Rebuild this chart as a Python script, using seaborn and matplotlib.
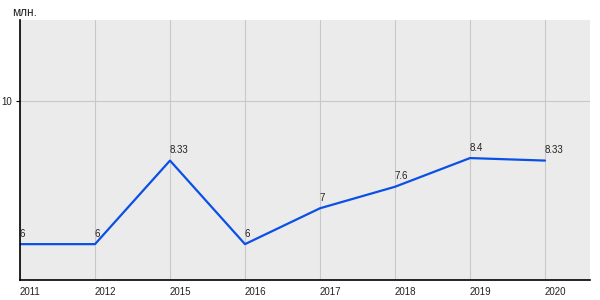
import matplotlib
matplotlib.use("Agg")
import matplotlib.pyplot as plt
import seaborn as sns
import pandas as pd

years = ["2011", "2012", "2015", "2016", "2017", "2018", "2019", "2020"]
values = [6, 6, 8.33, 6, 7, 7.6, 8.4, 8.33]
point_labels = ["6", "6", "8.33", "6", "7", "7.6", "8.4", "8.33"]
y_ticks = [10]
unit_label = "млн."

sns.set_theme(style="darkgrid")
plt.rcParams['font.family'] = ['Liberation Sans', 'DejaVu Sans']

df = pd.DataFrame({"year": years, "value": values})
df["pos"] = range(len(years))

fig = plt.figure(figsize=(6, 3), dpi=100)
ax = fig.add_axes([20/600, 20/300, 570/600, 260/300])
ax.set_facecolor("#EBEBEB")

sns.lineplot(data=df, x="pos", y="value", ax=ax, color="#0a50e6", linewidth=1.6)

for i, (v, lab) in enumerate(zip(values, point_labels)):
    ax.annotate(lab, (i, v), xytext=(-0.5, 4), textcoords="offset points",
                ha="left", va="bottom", fontsize=7, color="#222222")

ax.set_xlim(0, 7.6)
ax.set_ylim(5, 12.25)
ax.set_xticks(df["pos"])
ax.set_xticklabels(years, ha="left")
ax.set_yticks(y_ticks)
ax.set_yticklabels([str(t) for t in y_ticks])
ax.set_xlabel("")
ax.set_ylabel("")

ax.grid(True, color="#C8C8C8", linewidth=0.8)
for s in ["top", "right"]:
    ax.spines[s].set_visible(False)
for s in ["left", "bottom"]:
    ax.spines[s].set_visible(True)
    ax.spines[s].set_color("black")
    ax.spines[s].set_linewidth(1.2)

ax.tick_params(axis="x", length=0, pad=5, labelsize=7, colors="#222222")
ax.tick_params(axis="y", length=3, width=0.8, color="black", pad=3, labelsize=7, labelcolor="#222222", left=True)

fig.text(12/600, 1 - 13/300, unit_label, ha="left", va="center", fontsize=8.5, color="#222222")

fig.savefig("out.png", dpi=100)
